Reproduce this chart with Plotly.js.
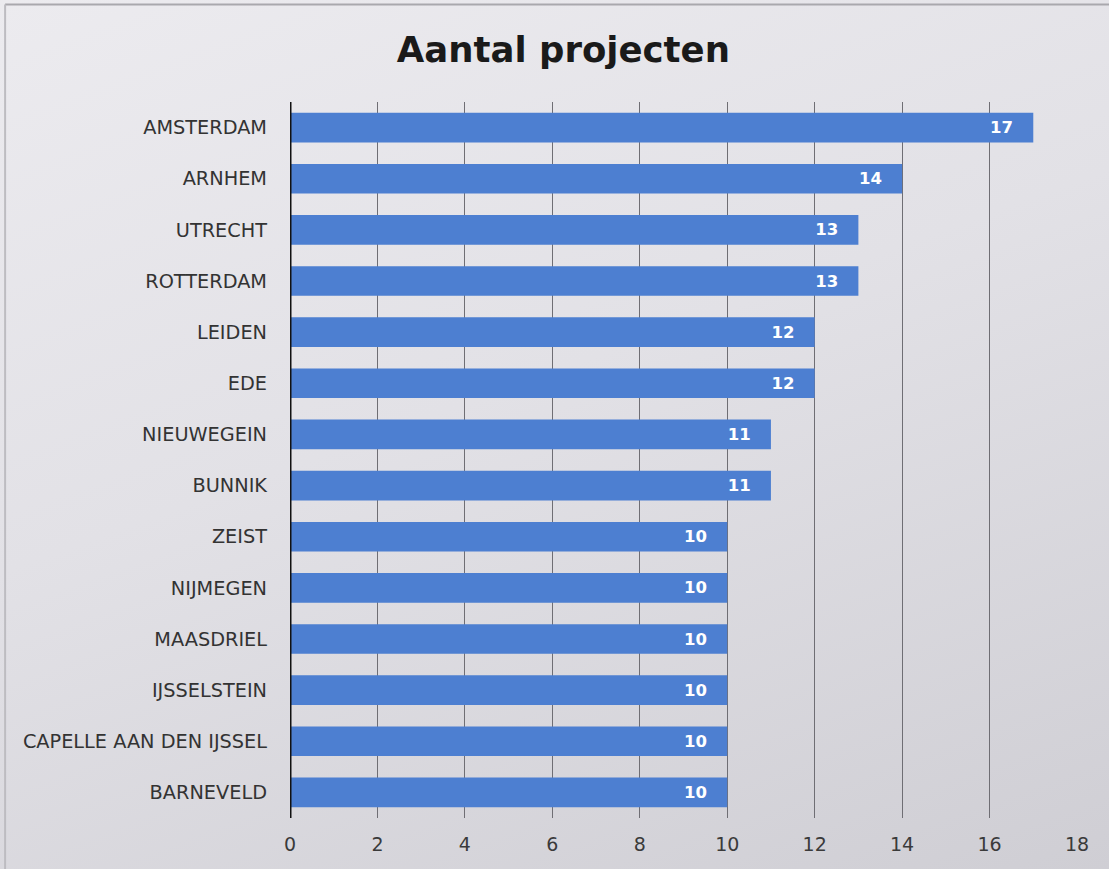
<!DOCTYPE html>
<html>
<head>
<meta charset="utf-8">
<script src="https://cdn.plot.ly/plotly-3.0.1.min.js"></script>
<style>
  html, body { margin: 0; padding: 0; background: #dddce1; }
  #chart { width: 1109px; height: 869px; background: linear-gradient(160deg, #ecebef 0%, #e2e1e6 45%, #cfced4 100%); }
</style>
</head>
<body>
<div id="chart"></div>
<script>
const categories = ["AMSTERDAM", "ARNHEM", "UTRECHT", "ROTTERDAM", "LEIDEN", "EDE", "NIEUWEGEIN", "BUNNIK", "ZEIST", "NIJMEGEN", "MAASDRIEL", "IJSSELSTEIN", "CAPELLE AAN DEN IJSSEL", "BARNEVELD"];
const projectCounts = [17, 14, 13, 13, 12, 12, 11, 11, 10, 10, 10, 10, 10, 10];
const xTickValues = [0, 2, 4, 6, 8, 10, 12, 14, 16, 18];

const FONT = 'DejaVu Sans, Verdana, sans-serif';

const trace = {
  type: 'bar',
  orientation: 'h',
  y: categories,
  x: projectCounts,
  marker: { color: '#4d7fd1' },
  text: projectCounts.map(v => String(v) + '\u00a0\u00a0\u00a0'),
  textposition: 'inside',
  insidetextanchor: 'end',
  textfont: { family: FONT, size: 16.5, color: '#ffffff', weight: 'bold' },
  hoverinfo: 'x+y'
};

const layout = {
  width: 1109,
  height: 869,
  margin: { l: 290, r: 32, t: 102, b: 51 },
  paper_bgcolor: 'rgba(0,0,0,0)',
  plot_bgcolor: 'rgba(0,0,0,0)',
  bargap: 0.42,
  showlegend: false,
  title: {
    text: '<b>Aantal projecten</b>',
    x: 0.508, xanchor: 'center',
    y: 0.943, yanchor: 'middle',
    font: { family: FONT, size: 35.5, color: '#1a1a1a' }
  },
  xaxis: {
    range: [0, 18],
    tickvals: xTickValues,
    showgrid: true,
    gridcolor: '#6f6e74',
    gridwidth: 1,
    zeroline: false,
    showline: false,
    ticks: '',
    tickfont: { family: FONT, size: 19, color: '#3a3a3a' },
    ticklabelstandoff: 13,
    fixedrange: true
  },
  yaxis: {
    autorange: 'reversed',
    showgrid: false,
    zeroline: false,
    showline: false,
    ticks: '',
    ticklabelstandoff: 22,
    tickfont: { family: FONT, size: 19.3, color: '#333333' },
    fixedrange: true
  },
  shapes: [
    { type: 'line', xref: 'x', yref: 'paper', x0: 0, x1: 0, y0: 0, y1: 1, line: { color: '#111111', width: 3 } },
    { type: 'line', xref: 'paper', yref: 'paper', x0: -0.362, x1: 1.05, y0: 1.136, y1: 1.136, line: { color: '#a9a8ad', width: 2 } },
    { type: 'line', xref: 'paper', yref: 'paper', x0: -0.362, x1: -0.362, y0: -0.08, y1: 1.136, line: { color: '#bdbcc1', width: 2 } }
  ]
};

Plotly.newPlot('chart', [trace], layout, { displayModeBar: false, staticPlot: true });
</script>
</body>
</html>
